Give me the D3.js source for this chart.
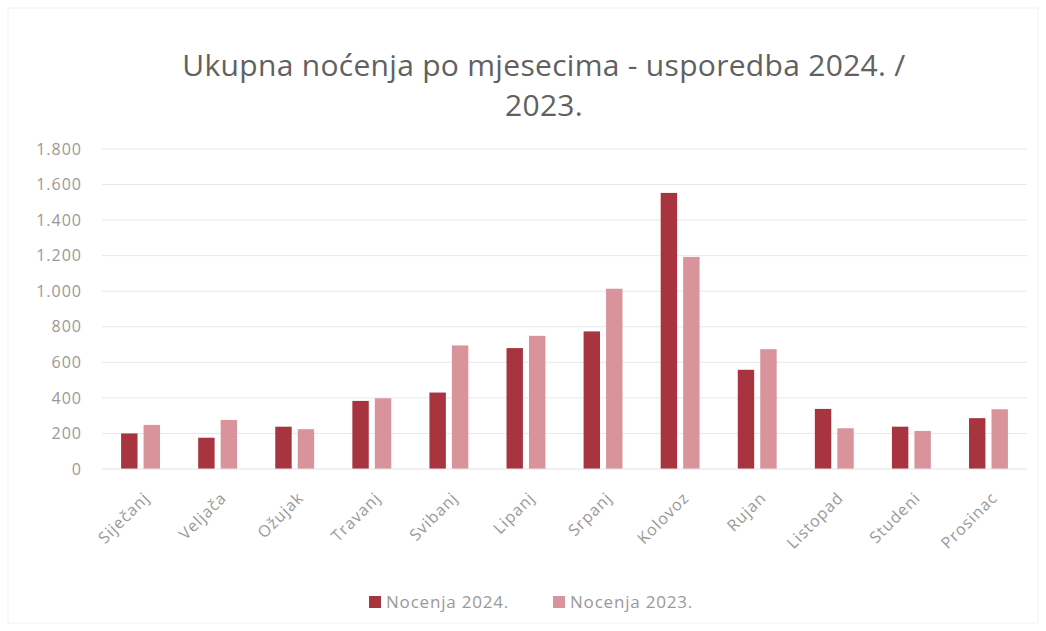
<!DOCTYPE html>
<html>
<head>
<meta charset="utf-8">
<script src="https://cdn.jsdelivr.net/npm/d3@7"></script>
<style>
  body { margin: 0; background: #fff; }
  svg { font-family: "Open Sans", "Liberation Sans", sans-serif; }
</style>
</head>
<body>
<svg width="1046" height="631"></svg>
<script>
const months = ["Siječanj", "Veljača", "Ožujak", "Travanj", "Svibanj", "Lipanj",
                "Srpanj", "Kolovoz", "Rujan", "Listopad", "Studeni", "Prosinac"];
const nocenja2024 = [200, 176, 238, 383, 430, 680, 774, 1553, 558, 338, 238, 286];
const nocenja2023 = [248, 276, 224, 398, 695, 749, 1014, 1193, 674, 229, 214, 336];
const seriesNames = ["Nocenja 2024.", "Nocenja 2023."];
const yTicks = [0, 200, 400, 600, 800, 1000, 1200, 1400, 1600, 1800];
const titleLines = ["Ukupna noćenja po mjesecima - usporedba 2024. /", "2023."];

const colors = ["#a8343f", "#d8939b"];

let svg = d3.select("svg");
const margin = {left: 102, right: 19, top: 149, bottom: 162};
const W = 1046, H = 631;

svg.append("rect")
    .attr("x", 8).attr("y", 8)
    .attr("width", W - 16).attr("height", H - 16)
    .attr("fill", "none").attr("stroke", "#f2f2f2");

// title
svg.append("g").selectAll("text")
    .data(titleLines)
    .enter().append("text")
    .attr("x", 544)
    .attr("y", (d, i) => 76 + i * 40)
    .attr("text-anchor", "middle")
    .attr("font-size", "30px")
    .attr("letter-spacing", "0.3px")
    .attr("fill", "#616161")
    .text(d => d);

const x = d3.scaleBand()
    .domain(months)
    .range([margin.left, W - margin.right]);

const xs = d3.scaleBand()
    .domain([0, 1])
    .range([0, x.bandwidth()])
    .paddingInner(0.27)
    .paddingOuter(0.85);

const y = d3.scaleLinear()
    .domain([0, 1800])
    .range([H - margin.bottom, margin.top]);

const fmt = d => d3.format(",")(d).replace(/,/g, ".");

// grid
svg.append("g").selectAll("line")
    .data(yTicks.slice(1))
    .enter().append("line")
    .attr("x1", margin.left).attr("x2", W - margin.right)
    .attr("y1", d => y(d)).attr("y2", d => y(d))
    .attr("stroke", "#e8e8e8").attr("stroke-width", 1);

// y axis
let yAxis = svg.append("g")
    .attr("transform", `translate(${margin.left},0)`)
    .call(d3.axisLeft(y).tickValues(yTicks).tickFormat(fmt).tickSize(0).tickPadding(20));
yAxis.select(".domain").remove();
yAxis.selectAll("text").attr("font-size", "16px").attr("fill", "#999999")
    .attr("letter-spacing", "1px")
    .attr("font-family", "Open Sans, sans-serif");

// bars
const series = [nocenja2024, nocenja2023];
series.forEach(function (vals, s) {
    svg.append("g").selectAll("rect")
        .data(vals)
        .enter().append("rect")
        .attr("x", (d, i) => x(months[i]) + xs(s))
        .attr("width", xs.bandwidth())
        .attr("y", d => y(d))
        .attr("height", d => y(0) - y(d))
        .attr("fill", colors[s]);
});

// baseline
svg.append("line")
    .attr("x1", margin.left).attr("x2", W - margin.right)
    .attr("y1", y(0)).attr("y2", y(0))
    .attr("stroke", "#e2e2e2");

// x labels
svg.append("g").selectAll("text")
    .data(months)
    .enter().append("text")
    .attr("transform", d => `translate(${x(d) + x.bandwidth() / 2 + 6},${y(0) + 26}) rotate(-45)`)
    .attr("text-anchor", "end")
    .attr("dy", "0.35em")
    .attr("font-size", "16px")
    .attr("letter-spacing", "1px")
    .attr("fill", "#999999")
    .text(d => d);

// legend
let legend = svg.append("g").selectAll("g")
    .data(seriesNames)
    .enter().append("g")
    .attr("transform", (d, i) => `translate(${369 + i * 184},602)`);
legend.append("rect")
    .attr("x", 0).attr("y", -6)
    .attr("width", 12).attr("height", 12)
    .attr("fill", (d, i) => colors[i]);
legend.append("text")
    .attr("x", 17).attr("dy", "0.35em")
    .attr("font-size", "17px")
    .attr("letter-spacing", "0.8px")
    .attr("fill", "#999999")
    .text(d => d);
</script>
</body>
</html>
